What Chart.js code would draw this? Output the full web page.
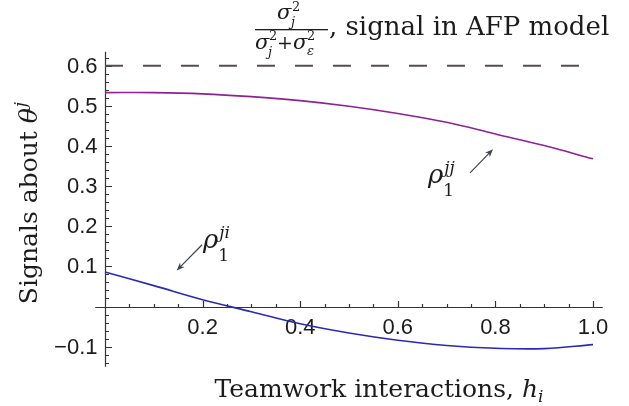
<!DOCTYPE html>
<html>
<head>
<meta charset="utf-8">
<script src="https://cdn.jsdelivr.net/npm/chart.js@4.4.1/dist/chart.umd.min.js"></script>
<style>
  html, body { margin: 0; padding: 0; background: #fff; }
  #wrap { width: 629px; height: 406px; position: relative; }
</style>
</head>
<body>
<div id="wrap"><canvas id="chart" width="629" height="406"></canvas></div>
<script>
// ── Data ────────────────────────────────────────────────────────────────────
const H_VALUES   = [0, 0.1, 0.2, 0.3, 0.4, 0.5, 0.6, 0.7, 0.8, 0.9, 1.0];
const RHO_JJ     = [0.533, 0.533, 0.530, 0.523, 0.513, 0.499, 0.481, 0.459, 0.430, 0.401, 0.368];
const RHO_JI     = [0.086, 0.052, 0.017, -0.013, -0.043, -0.066, -0.084, -0.097, -0.104, -0.105, -0.095];
const AFP_H      = [0, 1];
const AFP_SIGNAL = [0.6, 0.6];

const X_TICKS = [0.2, 0.4, 0.6, 0.8, 1.0];
const Y_TICKS = [-0.1, 0.1, 0.2, 0.3, 0.4, 0.5, 0.6];
const X_RANGE = [-0.02, 1.02];
const Y_RANGE = [-0.15, 0.635];

// annotation anchors in data units: [h, value]
const LABEL_JJ = [0.662, 0.308];
const ARROW_JJ = [[0.748, 0.333], [0.795, 0.392]];
const LABEL_JI = [0.201, 0.146];
const ARROW_JI = [[0.199, 0.154], [0.147, 0.090]];

// ── Styles ──────────────────────────────────────────────────────────────────
const PURPLE      = '#8e2294';
const BLUE        = '#2a2ab4';
const DASH_COLOR  = '#554d4d';
const AXIS_COLOR  = '#333';
const TEXT_COLOR  = '#1c1c1c';
const ARROW_COLOR = '#3c4450';

const TICK_FONT   = '22px "Liberation Sans", Arial, sans-serif';
const F_MAIN      = '25px "DejaVu Serif", serif';
const F_MAIN_IT   = 'italic 25px "DejaVu Serif", serif';
const F_SCRIPT    = '17px "DejaVu Serif", serif';
const F_SCRIPT_IT = 'italic 17px "DejaVu Serif", serif';
const F_FRAC_IT   = 'italic 21px "DejaVu Serif", serif';
const F_FRAC      = '19px "DejaVu Serif", serif';
const F_FRAC_SUP  = '13px "DejaVu Serif", serif';
const F_FRAC_SUPI = 'italic 13px "DejaVu Serif", serif';

function fmtTick(v) {
  const s = Math.abs(v).toFixed(1);
  return v < 0 ? '\u2212' + s : s;
}

// draws a run of text pieces [{t, f, dy, dx}] from (x, y) and returns the end x
function drawRuns(ctx, x, y, runs, measureOnly) {
  let cx = x;
  runs.forEach(r => {
    ctx.font = r.f;
    if (!measureOnly) ctx.fillText(r.t, cx + (r.dx || 0), y + (r.dy || 0));
    cx += ctx.measureText(r.t).width + (r.dx || 0);
  });
  return cx;
}

function drawArrow(ctx, x1, y1, x2, y2) {
  const ang = Math.atan2(y2 - y1, x2 - x1);
  const len = 8, half = 3.2;
  ctx.beginPath();
  ctx.moveTo(x1, y1);
  ctx.lineTo(x2 - Math.cos(ang) * 4, y2 - Math.sin(ang) * 4);
  ctx.stroke();
  ctx.beginPath();
  ctx.moveTo(x2, y2);
  ctx.lineTo(x2 - len * Math.cos(ang) + half * Math.sin(ang), y2 - len * Math.sin(ang) - half * Math.cos(ang));
  ctx.lineTo(x2 - len * Math.cos(ang) * 0.7, y2 - len * Math.sin(ang) * 0.7);
  ctx.lineTo(x2 - len * Math.cos(ang) - half * Math.sin(ang), y2 - len * Math.sin(ang) + half * Math.cos(ang));
  ctx.closePath();
  ctx.fill();
}

function drawRho(ctx, x, y, sup) {
  ctx.font = 'italic 26px "DejaVu Serif", serif';
  ctx.fillText('\u03C1', x, y);
  const w = ctx.measureText('\u03C1').width;
  ctx.font = F_SCRIPT;
  ctx.fillText('1', x + w, y + 13);
  ctx.font = F_SCRIPT_IT;
  ctx.fillText(sup, x + w + 1, y - 10);
}

// ── Axes plugin: Mathematica-style crossing axes with inward ticks ─────────
const mathAxes = {
  id: 'mathAxes',
  beforeDatasetsDraw(chart) {
    const { ctx, chartArea: a, scales: { x, y } } = chart;
    const x0 = Math.round(x.getPixelForValue(0)) + 0.5;
    const y0 = Math.round(y.getPixelForValue(0)) + 0.5;

    ctx.save();
    ctx.strokeStyle = AXIS_COLOR;
    ctx.lineWidth = 1.2;
    ctx.beginPath();
    ctx.moveTo(a.left, y0); ctx.lineTo(a.right, y0);
    ctx.moveTo(x0, a.top);  ctx.lineTo(x0, a.bottom);
    // y ticks: minor every 0.02, major every 0.1
    for (let k = -7; k <= 31; k++) {
      if (k === 0) continue;
      const py = Math.round(y.getPixelForValue(k * 0.02)) + 0.5;
      ctx.moveTo(x0, py); ctx.lineTo(x0 + (k % 5 === 0 ? 6.5 : 3.5), py);
    }
    // x ticks: minor every 0.05, major every 0.2
    for (let k = 1; k <= 20; k++) {
      const px = Math.round(x.getPixelForValue(k * 0.05)) + 0.5;
      ctx.moveTo(px, y0); ctx.lineTo(px, y0 - (k % 4 === 0 ? 6.5 : 3.5));
    }
    ctx.stroke();

    // tick labels
    ctx.fillStyle = TEXT_COLOR;
    ctx.font = TICK_FONT;
    ctx.textAlign = 'right';
    ctx.textBaseline = 'middle';
    Y_TICKS.forEach(v => ctx.fillText(fmtTick(v), x0 - 8, y.getPixelForValue(v) + 1));
    ctx.textAlign = 'center';
    X_TICKS.forEach(v => ctx.fillText(fmtTick(v), x.getPixelForValue(v), y0 + 20));
    ctx.restore();
  },
  afterDraw(chart) {
    const { ctx, scales: { x, y } } = chart;
    ctx.save();
    ctx.fillStyle = TEXT_COLOR;
    ctx.textAlign = 'left';
    ctx.textBaseline = 'alphabetic';

    // x title
    const xRuns = [
      { t: 'Teamwork interactions, ', f: F_MAIN },
      { t: 'h', f: F_MAIN_IT },
      { t: 'i', f: F_SCRIPT_IT, dy: 5 }
    ];
    const xw = drawRuns(ctx, 0, 0, xRuns, true);
    drawRuns(ctx, 379 - xw / 2, 397, xRuns);

    // y title (rotated)
    const yRuns = [
      { t: 'Signals about ', f: F_MAIN },
      { t: '\u03B8', f: F_MAIN_IT },
      { t: 'j', f: F_SCRIPT_IT, dy: -11, dx: 1 }
    ];
    const yw = drawRuns(ctx, 0, 0, yRuns, true);
    ctx.save();
    ctx.translate(37, 203);
    ctx.rotate(-Math.PI / 2);
    drawRuns(ctx, -yw / 2, 0, yRuns);
    ctx.restore();

    // top label: sigma_j^2 / (sigma_j^2 + sigma_eps^2), signal in AFP model
    ctx.font = F_FRAC_IT;    ctx.fillText('\u03C3', 277, 19);
    ctx.font = F_FRAC_SUP;   ctx.fillText('2', 292, 11);
    ctx.font = F_FRAC_SUPI;  ctx.fillText('j', 291, 26);
    ctx.fillRect(255, 29, 73, 1.3);
    ctx.font = F_FRAC_IT;    ctx.fillText('\u03C3', 255, 49);
    ctx.font = F_FRAC_SUP;   ctx.fillText('2', 269, 40);
    ctx.font = F_FRAC_SUPI;  ctx.fillText('j', 268, 56);
    ctx.font = F_FRAC;       ctx.fillText('+', 277, 49);
    ctx.font = F_FRAC_IT;    ctx.fillText('\u03C3', 293, 49);
    ctx.font = F_FRAC_SUP;   ctx.fillText('2', 307, 40);
    ctx.font = F_FRAC_SUPI;  ctx.fillText('\u03B5', 307, 55);
    ctx.font = '26px "DejaVu Serif", serif';
    ctx.fillText(', signal in AFP model', 329, 35);

    // rho labels and arrows
    drawRho(ctx, x.getPixelForValue(LABEL_JJ[0]), y.getPixelForValue(LABEL_JJ[1]), 'jj');
    drawRho(ctx, x.getPixelForValue(LABEL_JI[0]), y.getPixelForValue(LABEL_JI[1]), 'ji');
    ctx.strokeStyle = ARROW_COLOR;
    ctx.fillStyle = ARROW_COLOR;
    ctx.lineWidth = 1.2;
    [ARROW_JJ, ARROW_JI].forEach(ar => drawArrow(ctx,
      x.getPixelForValue(ar[0][0]), y.getPixelForValue(ar[0][1]),
      x.getPixelForValue(ar[1][0]), y.getPixelForValue(ar[1][1])));
    ctx.restore();
  }
};

// ── Chart ───────────────────────────────────────────────────────────────────
const toPoints = (xs, ys) => xs.map((h, i) => ({ x: h, y: ys[i] }));

new Chart(document.getElementById('chart').getContext('2d'), {
  type: 'line',
  data: {
    datasets: [
      {
        label: 'AFP signal',
        data: toPoints(AFP_H, AFP_SIGNAL),
        borderColor: DASH_COLOR,
        borderWidth: 2,
        borderDash: [18, 20],
        pointRadius: 0
      },
      {
        label: 'rho_1^jj',
        data: toPoints(H_VALUES, RHO_JJ),
        borderColor: PURPLE,
        borderWidth: 1.6,
        pointRadius: 0,
        tension: 0.4
      },
      {
        label: 'rho_1^ji',
        data: toPoints(H_VALUES, RHO_JI),
        borderColor: BLUE,
        borderWidth: 1.6,
        pointRadius: 0,
        tension: 0.4
      }
    ]
  },
  options: {
    responsive: false,
    animation: false,
    events: [],
    layout: { padding: { left: 95.2, right: 26.2, top: 51.7, bottom: 39.3 } },
    plugins: { legend: { display: false }, tooltip: { enabled: false } },
    scales: {
      x: { type: 'linear', display: false, min: X_RANGE[0], max: X_RANGE[1] },
      y: { type: 'linear', display: false, min: Y_RANGE[0], max: Y_RANGE[1] }
    }
  },
  plugins: [mathAxes]
});
</script>
</body>
</html>
